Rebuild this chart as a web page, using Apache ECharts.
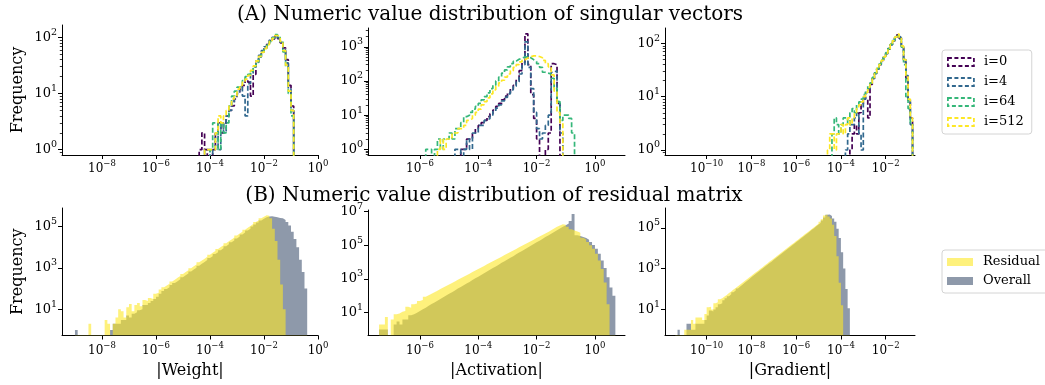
<!DOCTYPE html>
<html><head><meta charset="utf-8">
<script src="https://cdn.jsdelivr.net/npm/echarts@6/dist/echarts.min.js"></script>
<style>html,body{margin:0;padding:0;background:#fff}#c{width:1045px;height:385px}</style>
</head><body><div id="c"></div>
<script>
// ---------------- DATA ----------------
// Histogram bins are 0.1 decade wide (log10 of |value|).
const BIN = 0.1;
const topNames = ['i=0', 'i=4', 'i=64', 'i=512'];
const topColors = ['#440154', '#31688e', '#35b779', '#fde725'];

// (A) singular vectors, frequency counts per bin
const svWeightStart = -4.4;
const svWeight_i0   = [1,2,1,0,0,1,2,3,2,3,4,5,6,8,10,12,14,18,16,9,22,35,45,55,65,75,88,95,105,95,80,65,40,14,6];
const svWeight_i4   = [0,0,1,1,0,1,2,1,3,2,4,5,7,9,10,13,9,4,15,22,30,38,48,58,68,78,90,100,108,98,82,60,35,12,5];
const svWeight_i64  = [0,0,0,0,1,3,3,1,3,2,3,6,9,11,13,14,17,20,22,25,30,36,45,55,62,72,85,98,112,100,85,55,30,10,4];
const svWeight_i512 = [0,0,1,1,1,1,2,4,3,4,5,6,8,9,12,14,16,18,21,26,31,38,46,54,63,74,85,96,108,102,85,58,32,11,5];

const svActStart = -5.8;
const svAct_i0   = [0,0,0,0,0,0,0,0,0,0, 0,0,1,1,2,2,3,4,5,6, 7,9,11,14,18,22,28,36,45,60, 75,110,200,350,2400,300,40,8,2,0, 0,1,3,320,300,22,0,0,0,0, 0];
const svAct_i4   = [0,0,0,0,0,0,0,0,0,0, 1,1,0,1,2,1,3,3,5,5, 7,8,10,13,16,20,26,33,42,55, 70,95,160,300,1400,250,60,12,4,2, 3,5,10,180,200,25,3,0,0,0, 0];
const svAct_i64  = [1,1,0,1,2,1,2,2,3,2, 4,4,6,9,10,12,15,18,22,28, 35,45,60,75,100,130,170,210,260,320, 380,430,470,500,510,480,420,370,320,250, 180,170,160,120,60,25,7,10,10,8, 3];
const svAct_i512 = [0,0,0,0,1,2,1,2,2,3, 3,4,4,5,7,8,10,12,15,20, 25,32,42,55,70,88,105,130,160,200, 250,300,360,420,470,510,540,540,520,480, 400,320,260,150,50,12,6,0,0,0, 0];

const svGradStart = -4.6;
const svGrad_i0   = [0,0,0,0,0,0,0,0,0,0, 1,2,3,2,5,7,10,9,4,17, 22,28,33,40,48,55,65,80,95,110, 128,145,125,88,45,22,8,4];
const svGrad_i4   = [0,0,0,0,0,0,0,0,1,2, 3,3,4,5,2,1,9,12,14,18, 22,27,33,40,46,56,64,78,95,112, 130,138,128,92,50,25,9,3];
const svGrad_i64  = [0,0,2,4,3,2,3,4,4,3, 5,6,5,7,8,9,11,13,16,18, 23,28,34,41,49,57,67,80,96,113, 135,140,120,85,40,10,6,3];
const svGrad_i512 = [1,2,2,1,2,2,3,2,3,4, 3,4,5,6,7,8,10,12,15,18, 22,28,34,40,48,56,66,79,95,112, 132,150,126,90,50,25,9,4];

// (B) residual matrix, log10(frequency) per bin, null = empty bin
const weightStart = -9.0;
const weightResidualLog10 = [null,null,null,null,null,0.3,null,null,null,null,
  null,0.48,0.3,null,0.3,0.6,1.0,0.9,0.6,1.1,
  1.25,0.9,1.2,1.3,1.15,1.45,1.4,1.55,1.5,1.75,
  1.8,1.96,2.06,2.15,2.24,2.34,2.43,2.52,2.61,2.71,
  2.8,2.89,2.99,3.08,3.17,3.27,3.36,3.45,3.54,3.64,
  3.73,3.82,3.92,4.01,4.1,4.2,4.29,4.38,4.47,4.57,
  4.66,4.75,4.85,4.94,5.03,5.12,5.22,5.3,5.4,5.48,
  5.55,5.52,5.4,4.9,4.3,3.4,2.2,1.0,null,null,
  null,null,null,null,null,null];
const weightOverallLog10 = [0,null,null,null,null,null,null,null,null,null,
  null,null,null,0,0.3,0.3,0.3,0.48,0.48,0.7,
  0.6,0.78,0.85,0.95,1.0,1.2,1.2,1.3,1.4,1.5,
  1.6,1.75,1.88,1.98,2.07,2.17,2.27,2.36,2.45,2.55,
  2.64,2.73,2.83,2.92,3.01,3.11,3.2,3.29,3.38,3.48,
  3.57,3.67,3.76,3.86,3.95,4.05,4.14,4.24,4.33,4.43,
  4.52,4.62,4.71,4.81,4.9,5.0,5.1,5.2,5.3,5.38,
  5.45,5.49,5.5,5.48,5.45,5.42,5.4,5.32,5.22,5.05,
  4.75,4.4,4.0,3.4,2.8,2.0];

const actStart = -7.4;
const actResidualLog10 = [0.3,0.3,0.75,null,0.6,0.9,0.95,1.05,1.1,1.35,
  1.3,1.5,1.55,1.7,1.76,1.94,2.03,2.12,2.21,2.3,
  2.4,2.49,2.58,2.67,2.76,2.86,2.95,3.04,3.13,3.22,
  3.32,3.41,3.5,3.59,3.68,3.78,3.87,3.96,4.05,4.14,
  4.24,4.33,4.42,4.51,4.6,4.7,4.79,4.88,4.97,5.06,
  5.16,5.25,5.34,5.43,5.52,5.62,5.7,5.8,5.9,6.0,
  6.1,6.18,6.25,6.22,6.1,5.95,5.88,5.82,5.75,5.45,
  5.35,5.2,5.0,4.8,4.5,4.1,3.6,2.8,1.5,null,
  null];
const actOverallLog10 = [0,0,0,null,null,0.3,0.48,0.3,0.6,0.6,
  0.85,0.9,1.0,1.1,1.2,1.3,1.41,1.51,1.61,1.71,
  1.81,1.92,2.02,2.12,2.22,2.32,2.43,2.53,2.63,2.73,
  2.83,2.94,3.04,3.14,3.24,3.34,3.45,3.55,3.65,3.75,
  3.85,3.96,4.06,4.16,4.26,4.36,4.47,4.57,4.67,4.77,
  4.87,4.98,5.08,5.18,5.28,5.38,5.49,5.59,5.69,5.79,
  5.89,6.0,6.1,6.2,6.3,6.45,6.86,5.6,5.55,5.5,
  5.43,5.34,5.2,5.02,4.8,4.5,4.1,3.65,3.1,2.5,
  2.0];

const gradStart = -11.4;
const gradResidualLog10 = [null,null,null,null,0,0,0,0.48,0.3,0.6,
  0.6,0.6,0.48,0.78,1.1,1.13,1.0,1.3,1.35,1.5,
  1.54,1.63,1.71,1.8,1.88,1.97,2.05,2.14,2.22,2.31,
  2.39,2.48,2.56,2.65,2.73,2.82,2.9,2.99,3.07,3.16,
  3.24,3.33,3.41,3.5,3.58,3.67,3.75,3.84,3.92,4.01,
  4.09,4.18,4.26,4.35,4.43,4.52,4.6,4.69,4.77,4.86,
  4.94,5.03,5.11,5.2,5.3,5.42,5.6,5.66,5.55,5.45,
  5.15,4.6,3.6,2.3,1.2,null,null,null];
const gradOverallLog10 = [null,0,null,null,null,0.3,0.3,0,0,0.3,
  0.3,0.3,0.3,0.48,0.7,0.95,0.9,1.0,1.1,1.25,
  1.3,1.45,1.55,1.65,1.74,1.84,1.93,2.03,2.12,2.21,
  2.3,2.39,2.48,2.57,2.66,2.75,2.83,2.92,3.0,3.09,
  3.17,3.26,3.34,3.43,3.52,3.6,3.69,3.78,3.86,3.95,
  4.03,4.12,4.2,4.29,4.38,4.46,4.55,4.64,4.72,4.81,
  4.9,4.98,5.07,5.16,5.25,5.36,5.5,5.64,5.65,5.58,
  5.45,5.3,4.95,4.5,3.8,3.0,2.0,1.05];

// tick exponents
const xTicksCol1 = [-8,-6,-4,-2,0];
const xTicksCol2 = [-6,-4,-2,0];
const xTicksCol3 = [-10,-8,-6,-4,-2];
const yTicksTop1 = [0,1,2];
const yTicksTop2 = [0,1,2,3];
const yTicksTop3 = [0,1,2];
const yTicksBot1 = [1,3,5];
const yTicksBot2 = [1,3,5,7];
const yTicksBot3 = [1,3,5];

// ---------------- CHART ----------------
const FONT = '"DejaVu Serif", "Liberation Serif", serif';
const BOTTOM = -6;
function fmtPow(v){ const n = Math.round(v); return '{b|10}{s|' + (n < 0 ? '\u2212' + (-n) : String(n)) + '}'; }
const xRich = {
  b: {fontFamily: FONT, fontSize: 12, lineHeight: 19, color: '#000'},
  s: {fontFamily: FONT, fontSize: 8.5, lineHeight: 4, verticalAlign: 'top', color: '#000'}
};
const yRich = {
  b: {fontFamily: FONT, fontSize: 13, lineHeight: 20, color: '#000'},
  s: {fontFamily: FONT, fontSize: 9.5, lineHeight: 5, verticalAlign: 'top', color: '#000'}
};
const r3 = v => Math.round(v * 1000) / 1000;

function stepCounts(start, counts){
  const pts = [[r3(start), BOTTOM]];
  counts.forEach((c, i) => pts.push([r3(start + i * BIN), c > 0 ? Math.log10(c) : BOTTOM]));
  pts.push([r3(start + counts.length * BIN), BOTTOM]);
  return pts;
}
function stepLogs(start, logs){
  const pts = [[r3(start), BOTTOM]];
  logs.forEach((v, i) => pts.push([r3(start + i * BIN), v == null ? BOTTOM : v]));
  pts.push([r3(start + logs.length * BIN), BOTTOM]);
  return pts;
}

const grids = [
  {left: 62,  top: 25,  width: 256, height: 130},
  {left: 368, top: 28,  width: 257, height: 127},
  {left: 665, top: 28,  width: 250, height: 127},
  {left: 62,  top: 208, width: 256, height: 127.5},
  {left: 368, top: 210, width: 257, height: 125.5},
  {left: 665, top: 208, width: 250, height: 127.5}
];
const xRanges = [[-9.48, 0], [-7.78, 1.03], [-11.86, -0.69]];
const xTicks = [xTicksCol1, xTicksCol2, xTicksCol3];
const yRanges = [[-0.094, 2.22], [-0.167, 3.55], [-0.094, 2.29], [-0.27, 5.9], [-0.355, 7.1], [-0.28, 5.97]];
const yTicks = [yTicksTop1, yTicksTop2, yTicksTop3, yTicksBot1, yTicksBot2, yTicksBot3];
const xNames = ['|Weight|', '|Activation|', '|Gradient|'];

const nameStyle = {fontFamily: FONT, fontSize: 16, color: '#000'};

const xAxis = [], yAxis = [];
for (let g = 0; g < 6; g++) {
  const col = g % 3;
  xAxis.push({
    type: 'value', gridIndex: g, min: xRanges[col][0], max: xRanges[col][1],
    splitLine: {show: false},
    axisLine: {show: true, onZero: false, lineStyle: {color: '#000', width: 1}},
    axisTick: {show: true, customValues: xTicks[col], length: 4, lineStyle: {color: '#000', width: 1}},
    axisLabel: {show: true, customValues: xTicks[col], formatter: fmtPow, margin: g >= 3 ? 6 : 4, rich: xRich},
    name: g >= 3 ? xNames[col] : '', nameLocation: 'middle', nameGap: 27, nameTextStyle: nameStyle
  });
  yAxis.push({
    type: 'value', gridIndex: g, min: yRanges[g][0], max: yRanges[g][1], position: 'left',
    splitLine: {show: false},
    axisLine: {show: true, onZero: false, lineStyle: {color: '#000', width: 1}},
    axisTick: {show: true, customValues: yTicks[g], length: 4, lineStyle: {color: '#000', width: 1}},
    axisLabel: {show: true, customValues: yTicks[g], formatter: fmtPow, margin: 5, rich: yRich},
    name: col === 0 ? 'Frequency' : '', nameLocation: 'middle', nameGap: 36, nameRotate: 90, nameTextStyle: nameStyle
  });
}
// minor ticks (2..9 x 10^n) on the top-row frequency axes
for (let g = 0; g < 3; g++) {
  const minor = [];
  for (let n = -1; n <= 3; n++) for (let k = 2; k <= 9; k++) {
    const v = n + Math.log10(k);
    if (v > yRanges[g][0] && v < yRanges[g][1]) minor.push(v);
  }
  yAxis.push({
    type: 'value', gridIndex: g, min: yRanges[g][0], max: yRanges[g][1], position: 'left', offset: 0,
    splitLine: {show: false}, axisLine: {show: false, onZero: false},
    axisTick: {show: true, customValues: minor, length: 2.2, lineStyle: {color: '#000', width: 0.8}},
    axisLabel: {show: false}
  });
}

const series = [];
const topSets = [
  [svWeightStart, [svWeight_i0, svWeight_i4, svWeight_i64, svWeight_i512]],
  [svActStart, [svAct_i0, svAct_i4, svAct_i64, svAct_i512]],
  [svGradStart, [svGrad_i0, svGrad_i4, svGrad_i64, svGrad_i512]]
];
topSets.forEach(([start, arrs], g) => {
  arrs.forEach((arr, k) => {
    series.push({
      type: 'line', name: topNames[k], xAxisIndex: g, yAxisIndex: g, step: 'end',
      data: stepCounts(start, arr), symbol: 'none', clip: true, silent: true,
      lineStyle: {color: topColors[k], width: 1.7, type: [5, 2.5]},
      itemStyle: {color: topColors[k]}
    });
  });
});
const OVERALL = 'rgba(67,85,113,0.6)';
const RESIDUAL = 'rgba(253,231,37,0.6)';
const botSets = [
  [weightStart, weightOverallLog10, weightResidualLog10],
  [actStart, actOverallLog10, actResidualLog10],
  [gradStart, gradOverallLog10, gradResidualLog10]
];
botSets.forEach(([start, ov, res], c) => {
  const g = c + 3;
  series.push({
    type: 'line', name: 'Overall', xAxisIndex: g, yAxisIndex: g, step: 'end',
    data: stepLogs(start, ov), symbol: 'none', clip: true, silent: true,
    lineStyle: {width: 0, opacity: 0}, itemStyle: {color: OVERALL},
    areaStyle: {color: OVERALL, origin: 'start', opacity: 1}
  });
  series.push({
    type: 'line', name: 'Residual', xAxisIndex: g, yAxisIndex: g, step: 'end',
    data: stepLogs(start, res), symbol: 'none', clip: true, silent: true,
    lineStyle: {width: 0, opacity: 0}, itemStyle: {color: RESIDUAL},
    areaStyle: {color: RESIDUAL, origin: 'start', opacity: 1}
  });
});

const legendCommon = {
  orient: 'vertical', left: 942, itemWidth: 26, itemHeight: 8, selectedMode: false,
  borderColor: '#d4d4d4', borderWidth: 1, borderRadius: 3, backgroundColor: '#fff',
  textStyle: {fontFamily: FONT, fontSize: 13, color: '#000', lineHeight: 14, padding: [0, 0, 0, 5]}
};
const legend = [
  Object.assign({}, legendCommon, {
    top: 50, itemGap: 6, padding: [5, 8, 5, 5],
    data: topNames.map((n, k) => ({name: n, icon: 'rect',
      itemStyle: {color: 'rgba(0,0,0,0)', borderColor: topColors[k], borderWidth: 1.8, borderType: [4, 2.5]}}))
  }),
  Object.assign({}, legendCommon, {
    top: 250, itemGap: 5, padding: [5, 8, 5, 5],
    data: [
      {name: 'Residual', icon: 'rect', itemStyle: {color: RESIDUAL, borderWidth: 0}},
      {name: 'Overall', icon: 'rect', itemStyle: {color: OVERALL, borderWidth: 0}}
    ]
  })
];

const chart = echarts.init(document.getElementById('c'), null, {renderer: 'canvas'});
chart.setOption({
  animation: false,
  backgroundColor: '#fff',
  textStyle: {fontFamily: FONT},
  grid: grids.map(g => Object.assign({outerBoundsMode: 'none', containLabel: false}, g)),
  xAxis, yAxis, series, legend,
  graphic: [
    {type: 'text', x: 490, y: 15, style: {text: '(A) Numeric value distribution of singular vectors', fontFamily: FONT, fontSize: 20, fill: '#000', align: 'center', verticalAlign: 'middle'}},
    {type: 'text', x: 494, y: 196, style: {text: '(B) Numeric value distribution of residual matrix', fontFamily: FONT, fontSize: 20, fill: '#000', align: 'center', verticalAlign: 'middle'}}
  ]
});
</script>
</body></html>
